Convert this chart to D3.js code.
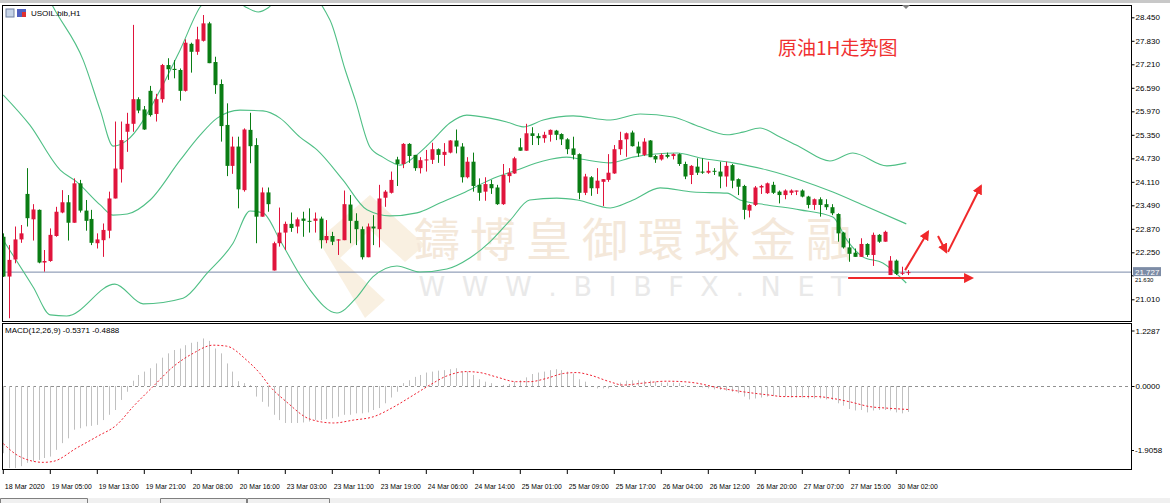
<!DOCTYPE html>
<html><head><meta charset="utf-8">
<script src="https://cdn.jsdelivr.net/npm/d3@7"></script>
<style>body{margin:0;background:#fff;overflow:hidden}svg{display:block}</style>
</head><body>
<svg id="c" width="1170" height="503"></svg>
<script>
// ---- DATA ----
const symbolTitle = "USOIL.bib,H1";
const macdTitle = "MACD(12,26,9) -0.5371 -0.4888";
const annotationTitle = "原油1H走势图";
const watermarkCN = "鑄博皇御環球金融";
const watermarkEN = "W W W . B I B F X . N E T";
// [open, high, low, close] per hourly bar
const ohlc = [
[22.66,22.75,21.60,21.61],[21.61,22.44,20.51,22.05],[22.06,22.93,21.96,22.59],[22.59,22.97,22.50,22.75],
[23.79,24.47,22.93,23.15],[23.12,23.52,22.56,23.38],[23.37,23.38,21.96,21.98],[21.98,22.31,21.74,22.02],
[22.02,22.88,22.00,22.71],[22.68,23.45,22.66,23.32],[23.30,23.89,23.28,23.57],[23.57,23.76,22.56,23.03],
[23.03,24.20,23.03,24.07],[24.07,24.16,23.30,23.35],[23.35,23.63,22.82,23.08],[23.13,23.37,22.44,22.50],
[22.49,22.75,22.35,22.59],[22.57,23.01,22.13,22.84],[22.82,23.85,22.62,23.67],[23.67,25.70,23.67,24.46],
[24.44,25.70,24.09,25.21],[25.43,25.93,24.90,25.64],[25.64,28.25,25.43,26.29],[26.29,26.34,25.92,25.99],
[26.02,26.11,25.48,25.49],[26.51,26.64,25.83,25.87],[25.90,26.43,25.70,26.29],[26.29,27.22,26.20,27.19],
[27.19,27.37,26.80,27.08],[27.09,27.32,26.84,27.06],[27.06,27.10,26.25,26.51],[26.51,27.87,26.49,27.78],
[27.75,27.78,26.99,27.54],[27.54,28.20,27.46,27.87],[27.83,28.51,27.81,28.29],[28.29,28.33,27.24,27.24],
[27.27,27.41,26.43,26.66],[26.69,26.81,25.17,25.58],[25.61,26.18,24.26,24.53],[24.53,25.30,24.32,25.04],
[25.04,25.30,23.41,23.91],[23.89,25.52,23.85,25.49],[25.48,25.93,24.60,25.05],[25.08,25.26,22.49,23.19],
[23.19,23.96,23.19,23.83],[23.83,23.96,23.32,23.52],[21.77,22.53,21.77,22.49],[22.49,23.43,22.40,22.77],
[22.77,23.06,22.31,23.00],[23.00,23.30,22.79,22.89],[22.93,23.17,22.75,23.12],[23.14,23.32,22.66,23.08],
[23.08,23.41,22.77,23.07],[23.08,23.30,22.77,23.14],[23.14,23.19,22.35,22.57],[22.57,23.10,22.49,22.68],
[22.68,22.79,22.44,22.53],[22.56,22.60,22.18,22.59],[22.57,23.88,22.57,23.52],[23.51,23.76,22.49,23.08],
[23.08,23.28,22.44,22.86],[22.86,22.93,22.06,22.12],[22.12,23.01,22.12,22.93],[22.93,23.23,22.44,22.88],
[22.86,24.03,22.38,23.67],[23.69,23.89,23.45,23.85],[23.82,24.38,23.80,24.16],[24.70,24.77,24.00,24.58],
[24.58,25.13,24.47,25.11],[25.11,25.13,24.61,24.79],[24.82,24.82,24.40,24.47],[24.47,24.76,24.33,24.68],
[24.69,24.95,24.38,24.70],[24.69,25.14,24.58,24.97],[24.97,24.99,24.61,24.82],[24.82,25.13,24.53,24.90],
[24.88,25.21,24.86,25.20],[25.20,25.49,24.86,25.04],[25.04,25.13,24.09,24.23],[24.23,24.76,24.20,24.64],
[24.64,24.88,23.85,24.00],[24.03,24.20,23.61,23.82],[23.85,24.23,23.61,24.05],[24.05,24.16,23.79,23.94],
[23.96,24.03,23.50,23.52],[23.52,24.58,23.50,24.29],[24.26,24.47,24.09,24.35],[24.33,24.77,24.32,24.73],
[25.02,25.26,24.93,24.93],[24.93,25.64,24.93,25.39],[25.39,25.55,25.08,25.32],[25.32,25.39,25.08,25.26],
[25.26,25.43,25.14,25.35],[25.35,25.49,25.17,25.48],[25.46,25.48,25.21,25.35],[25.37,25.39,25.08,25.23],
[25.23,25.26,24.84,24.97],[24.99,25.30,24.70,24.82],[24.84,24.86,23.65,23.82],[23.82,24.32,23.76,24.25],
[24.23,24.26,23.74,23.94],[23.94,24.47,23.79,24.14],[24.11,24.18,23.47,24.18],[24.16,24.84,24.11,24.35],
[24.33,25.08,24.32,24.97],[24.97,25.43,24.82,25.21],[25.23,25.41,24.77,25.39],[25.41,25.46,25.04,25.05],
[25.04,25.17,24.77,24.86],[24.82,25.26,24.79,25.17],[25.20,25.21,24.76,24.76],[24.79,24.82,24.61,24.70],
[24.70,24.86,24.67,24.82],[24.82,24.88,24.73,24.77],[24.79,24.86,24.70,24.84],[24.84,24.86,24.53,24.58],
[24.58,24.64,24.18,24.25],[24.29,24.55,24.05,24.53],[24.51,24.73,24.29,24.35],[24.38,24.73,24.32,24.35],
[24.35,24.64,24.32,24.40],[24.40,24.47,24.29,24.38],[24.38,24.64,23.94,24.25],[24.25,24.64,23.98,24.53],
[24.55,24.58,23.94,24.14],[24.18,24.20,23.76,23.98],[24.00,24.03,23.12,23.37],[23.35,23.52,23.17,23.50],
[23.50,24.00,23.47,23.96],[23.96,24.03,23.79,24.00],[23.81,24.09,23.79,24.07],[24.03,24.11,23.79,23.82],
[23.85,23.88,23.54,23.76],[23.76,23.91,23.65,23.88],[23.82,23.91,23.76,23.88],[23.85,23.88,23.76,23.88],
[23.88,23.91,23.70,23.72],[23.72,23.74,23.41,23.50],[23.50,23.67,23.37,23.65],[23.65,23.70,23.19,23.50],
[23.52,23.65,23.37,23.44],[23.44,23.52,23.23,23.28],[23.26,23.28,22.53,22.75],[22.77,22.79,22.35,22.38],
[22.38,22.62,22.00,22.21],[22.24,22.35,22.13,22.13],[22.13,22.62,22.13,22.47],[22.47,22.49,22.13,22.18],
[22.18,22.77,21.89,22.71],[22.71,22.73,22.50,22.53],[22.53,22.82,22.53,22.79],[21.65,22.15,21.65,22.03],
[22.03,22.06,21.65,21.68],[21.70,21.87,21.65,21.71],[21.71,21.78,21.65,21.727]
];
// Bollinger bands: [bar index, price]
const bandUpper = [[0,30.49],[6.2,29.43],[8.5,28.72],[13.6,27.32],[16.5,26.00],[18.7,25.05],[21.1,25.21],[26.7,26.53],[30.1,27.59],[33.5,28.72],[36.9,29.17],[41.5,28.70],[43.4,28.59],[45.1,28.70],[48.8,29.43],[55.6,28.38],[58.2,27.06],[59.9,26.27],[62.4,25.03],[64.6,24.76],[66.3,24.61],[67.5,24.55],[70.4,24.82],[73.1,25.21],[76.0,25.66],[78.9,25.87],[82.8,25.79],[85.7,25.69],[88.5,25.56],[91.9,25.74],[97.0,25.85],[103.3,25.74],[108.4,25.90],[114.0,25.82],[118.6,25.56],[123.2,25.35],[125.9,25.42],[128.8,25.53],[132.2,25.29],[135.6,25.03],[140.7,24.66],[144.6,24.87],[150.4,24.53],[153.7,24.61]];
const bandMiddle = [[0,26.40],[4.5,25.61],[9.7,24.42],[12.5,24.11],[16.5,23.50],[18.7,23.23],[21.1,23.26],[25.0,23.63],[30.1,24.68],[33.5,25.34],[36.4,25.79],[40.3,26.00],[44.2,25.98],[47.1,25.79],[50.5,25.29],[53.4,24.95],[57.8,24.16],[61.9,23.37],[65.8,23.21],[70.4,23.29],[74.3,23.55],[78.2,23.81],[82.8,24.16],[87.4,24.42],[91.9,24.66],[95.9,24.76],[98.2,24.71],[103.3,24.61],[107.2,24.76],[114.7,24.87],[118.6,24.74],[124.2,24.61],[130.0,24.42],[135.6,24.16],[141.2,23.84],[147.0,23.45],[153.7,23.00]];
const bandLower = [[0,22.57],[5.1,21.33],[8.0,20.60],[10.8,20.57],[19.0,21.41],[23.8,20.89],[30.6,21.04],[34.7,21.70],[39.1,22.49],[42.0,23.34],[44.2,23.29],[47.1,22.57],[50.5,21.65],[52.2,21.26],[56.8,20.65],[60.2,21.07],[62.9,21.60],[67.0,21.89],[70.9,21.73],[75.5,21.81],[79.4,22.10],[82.8,22.52],[86.3,23.10],[89.6,23.63],[94.2,23.68],[97.7,23.63],[103.3,23.42],[107.2,23.63],[111.8,23.95],[117.4,23.84],[123.2,23.81],[125.4,23.63],[130.0,23.50],[135.6,23.37],[141.2,23.18],[143.6,22.57],[146.3,22.13],[149.7,21.97],[153.7,21.44]];
// MACD histogram per bar
const macdHist = [-1.40,-1.71,-1.71,-1.67,-1.60,-1.57,-1.54,-1.50,-1.47,-1.33,-1.19,-1.09,-0.91,-0.88,-0.84,-0.83,-0.81,-0.71,-0.60,-0.50,
-0.29,-0.12,0.11,0.23,0.30,0.37,0.47,0.59,0.68,0.75,0.78,0.85,0.90,0.92,0.99,0.94,0.78,0.68,0.47,0.30,
0.10,0.06,0.02,-0.22,-0.33,-0.43,-0.60,-0.71,-0.77,-0.77,-0.77,-0.76,-0.74,-0.71,-0.71,-0.69,-0.67,-0.64,-0.60,-0.60,
-0.57,-0.57,-0.55,-0.50,-0.46,-0.36,-0.24,-0.12,0.06,0.12,0.19,0.23,0.28,0.30,0.32,0.33,0.35,0.37,0.30,0.30,
0.23,0.14,0.09,0.06,0,0.02,0.04,0.09,0.12,0.18,0.25,0.28,0.30,0.33,0.35,0.33,0.30,0.26,0.14,0.09,
0,-0.05,-0.05,-0.05,0.02,0.07,0.11,0.12,0.12,0.11,0.11,0.09,0.07,0.07,0.07,0.06,0.02,0,-0.01,-0.03,
-0.05,-0.07,-0.08,-0.10,-0.12,-0.15,-0.22,-0.28,-0.26,-0.24,-0.22,-0.21,-0.22,-0.22,-0.24,-0.24,-0.24,-0.26,-0.26,-0.26,
-0.28,-0.29,-0.36,-0.41,-0.48,-0.51,-0.50,-0.55,-0.51,-0.50,-0.50,-0.51,-0.55,-0.57,-0.54];
// MACD signal line: [bar index, value]
const macdSignal = [[0,-1.20],[2.8,-1.47],[6.8,-1.59],[8.5,-1.57],[12.5,-1.29],[16.0,-1.05],[19.3,-0.81],[22.1,-0.43],[25.5,-0.01],[28.9,0.40],[32.3,0.68],[35.7,0.85],[38.0,0.83],[41.4,0.54],[43.7,0.26],[45.4,-0.01],[48.2,-0.33],[52.2,-0.69],[56.2,-0.77],[59.6,-0.71],[63.0,-0.64],[66.4,-0.44],[69.8,-0.19],[72.6,0.02],[75.5,0.21],[78.8,0.30],[81.1,0.28],[83.9,0.19],[87.3,0.09],[89.6,0.09],[92.5,0.16],[95.3,0.26],[97.6,0.28],[99.8,0.23],[103.2,0.09],[105.5,0.02],[108.9,0.06],[112.9,0.10],[115.7,0.09],[118.0,0.06],[121.4,-0.03],[125.9,-0.12],[130.5,-0.19],[132.7,-0.22],[138.4,-0.22],[141.2,-0.26],[144.1,-0.33],[147.5,-0.43],[150.3,-0.46],[154,-0.4888]];
const priceTicks = [28.45,27.83,27.21,26.59,25.97,25.35,24.73,24.11,23.49,22.87,22.25,21.63,21.01];
const lastPrice = 21.727;
const macdTicks = [1.2287,0];
const macdMin = -1.9058;
const timeLabels = ["18 Mar 2020","19 Mar 05:00","19 Mar 13:00","19 Mar 21:00","20 Mar 08:00","20 Mar 16:00","23 Mar 03:00","23 Mar 11:00","23 Mar 19:00","24 Mar 06:00","24 Mar 14:00","25 Mar 01:00","25 Mar 09:00","25 Mar 17:00","26 Mar 04:00","26 Mar 12:00","26 Mar 20:00","27 Mar 07:00","27 Mar 15:00","30 Mar 02:00"];
const labelEvery = 8;
// forecast arrows: [[bar,price],[bar,price]]
const arrows = [[[143.8,21.57],[164.9,21.57]],[[153.5,21.78],[157.4,22.79]],[[159.1,22.68],[160.5,22.26]],[[160.8,22.26],[166.4,24.00]]];

// ---- DRAW ----
const svg = d3.select("#c");
const L=3, R=1131, mainTop=6, mainBot=322, subTop=324, subBot=469;
const x = d3.scaleLinear().domain([0,154]).range([3.3, 3.3+154*5.875]);
const y = d3.scaleLinear().domain([21.01,28.45]).range([299.3,17.3]);
const ym = d3.scaleLinear().domain([0,1.2287]).range([386,327]);
const font = "Liberation Sans, Arial, sans-serif";

svg.append("rect").attr("x",0).attr("y",0).attr("width",1170).attr("height",3).attr("fill","#c8c8c8");
svg.append("rect").attr("x",0).attr("y",498).attr("width",1170).attr("height",5).attr("fill","#f0f0f0");
[[0,88],[160,247],[247,330]].forEach(t=>{
  svg.append("path").attr("d",`M${t[0]+0.5},503 V498.5 H${t[1]-0.5} V503`).attr("fill","none").attr("stroke","#808080");
});

svg.append("clipPath").attr("id","mc").append("rect").attr("x",L).attr("y",mainTop).attr("width",R-L).attr("height",mainBot-mainTop);
svg.append("clipPath").attr("id","sc").append("rect").attr("x",L).attr("y",subTop).attr("width",R-L).attr("height",subBot-subTop);

// watermark
const wm = svg.append("g").attr("clip-path","url(#mc)");
wm.append("path").attr("d","M318,240 L370,195 L425,245 L405,262 L370,230 L340,258 L385,300 L365,318 Z").attr("fill","#f7ecd9").attr("opacity",0.8);
wm.append("text").attr("x",638).attr("y",256).attr("text-anchor","middle").attr("font-family","Noto Sans CJK TC").attr("font-size",46).attr("letter-spacing",10).attr("fill","#f4e8da").text(watermarkCN);
wm.append("text").attr("x",635).attr("y",296).attr("text-anchor","middle").attr("font-family","DejaVu Sans").attr("font-size",27).attr("letter-spacing",4).attr("fill","#e9e9e9").text(watermarkEN);

// price line
svg.append("line").attr("x1",L).attr("x2",R).attr("y1",y(lastPrice)).attr("y2",y(lastPrice)).attr("stroke","#7a8aa8").attr("stroke-width",1);

// bands
const gb = svg.append("g").attr("clip-path","url(#mc)");
const bline = d3.line().x(d=>x(d[0])).y(d=>y(d[1])).curve(d3.curveMonotoneX);
[bandUpper,bandMiddle,bandLower].forEach(b=>gb.append("path").attr("d",bline(b)).attr("fill","none").attr("stroke","#4fbf85").attr("stroke-width",1.1));

// candles
const gc = svg.append("g").attr("clip-path","url(#mc)");
const up="#e0143c", dn="#0a7d14";
ohlc.forEach((d,i)=>{
  const col = d[3]>=d[0]?up:dn;
  const cx = Math.round(x(i))+0.5;
  gc.append("line").attr("x1",cx).attr("x2",cx).attr("y1",y(d[1])).attr("y2",y(d[2])).attr("stroke",col).attr("stroke-width",1);
  const t=y(Math.max(d[0],d[3])), b=y(Math.min(d[0],d[3]));
  gc.append("rect").attr("x",cx-2).attr("y",t).attr("width",4).attr("height",Math.max(1,b-t)).attr("fill",col);
});

// arrows
const defs = svg.append("defs");
defs.append("marker").attr("id","ah").attr("viewBox","0 0 10 10").attr("refX",8).attr("refY",5).attr("markerWidth",5).attr("markerHeight",5).attr("orient","auto")
  .append("path").attr("d","M0,0 L10,5 L0,10 Z").attr("fill","#f0282a");
arrows.forEach(a=>svg.append("line").attr("x1",x(a[0][0])).attr("y1",y(a[0][1])).attr("x2",x(a[1][0])).attr("y2",y(a[1][1])).attr("stroke","#f0282a").attr("stroke-width",2).attr("marker-end","url(#ah)"));

// MACD
const gm = svg.append("g").attr("clip-path","url(#sc)");
gm.append("line").attr("x1",L).attr("x2",R).attr("y1",ym(0)+0.5).attr("y2",ym(0)+0.5).attr("stroke","#909090").attr("stroke-dasharray","3,3");
macdHist.forEach((v,i)=>{
  const cx=Math.round(x(i))+0.5;
  gm.append("line").attr("x1",cx).attr("x2",cx).attr("y1",ym(0)).attr("y2",ym(v)).attr("stroke","#c0c0c0").attr("stroke-width",1);
});
gm.append("path").attr("d",d3.line().x(d=>x(d[0])).y(d=>ym(d[1])).curve(d3.curveMonotoneX)(macdSignal)).attr("fill","none").attr("stroke","#f02030").attr("stroke-width",1).attr("stroke-dasharray","2,2");

// frames
svg.append("rect").attr("x",L-0.5).attr("y",mainTop-0.5).attr("width",R-L+1).attr("height",mainBot-mainTop).attr("fill","none").attr("stroke","#000");
svg.append("rect").attr("x",L-0.5).attr("y",subTop-0.5).attr("width",R-L+1).attr("height",subBot-subTop+1).attr("fill","none").attr("stroke","#000");
svg.append("path").attr("d","M902,5 L910,5 L906,9 Z").attr("fill","#808080");

// price axis
const ya = svg.append("g").attr("transform",`translate(${R+0.5},0)`).call(d3.axisRight(y).tickValues(priceTicks.filter(v=>v!==21.63)).tickSize(3).tickFormat(d3.format(".3f")));
ya.select(".domain").remove();
ya.selectAll("text").attr("font-family",font).attr("font-size",8).attr("fill","#000").attr("x",4);
ya.selectAll("line").attr("stroke","#000");
svg.append("line").attr("x1",R).attr("x2",R+3).attr("y1",y(21.63)).attr("y2",y(21.63)).attr("stroke","#000");
svg.append("text").attr("x",R+4).attr("y",y(21.63)+6).attr("font-family",font).attr("font-size",6).attr("fill","#000").text("21.630");
svg.append("rect").attr("x",R+2).attr("y",y(lastPrice)-5).attr("width",28).attr("height",9).attr("fill","#7d8ca6");
svg.append("text").attr("x",R+4).attr("y",y(lastPrice)+3).attr("font-family",font).attr("font-size",8).attr("fill","#fff").text(lastPrice.toFixed(3));

// macd axis
const ma = svg.append("g").attr("transform",`translate(${R+0.5},0)`).call(d3.axisRight(ym).tickValues(macdTicks).tickSize(3).tickFormat(d3.format(".4f")));
ma.select(".domain").remove();
ma.selectAll("text").attr("font-family",font).attr("font-size",8).attr("fill","#000").attr("x",4);
ma.selectAll(".tick").filter(d=>d>1).attr("transform",`translate(0,${ym(1.2287)+4})`);
svg.append("text").attr("x",R+4).attr("y",453).attr("font-family",font).attr("font-size",8).text(macdMin.toFixed(4));
svg.append("line").attr("x1",R).attr("x2",R+3).attr("y1",450.5).attr("y2",450.5).attr("stroke","#000");

// time axis
const ticksIdx = timeLabels.map((t,i)=>i*labelEvery);
const xa = svg.append("g").attr("transform",`translate(0,${subBot+1})`).call(d3.axisBottom(x).tickValues(ticksIdx).tickSize(4).tickFormat((d,i)=>timeLabels[i]));
xa.select(".domain").remove();
xa.selectAll("line").attr("stroke","#000").attr("transform","translate(-0.5,0)");
xa.selectAll("text").attr("font-family",font).attr("font-size",7.5).attr("fill","#000").attr("text-anchor","start").attr("x",1).attr("y",14)
  .attr("textLength",40).attr("lengthAdjust","spacingAndGlyphs");

// titles
svg.append("rect").attr("x",6).attr("y",9).attr("width",8).attr("height",8).attr("fill","#c6d3e6").attr("stroke","#7080a0");
svg.append("rect").attr("x",17).attr("y",9).attr("width",9).attr("height",8).attr("fill","#5060c0");
svg.append("rect").attr("x",22).attr("y",12).attr("width",4).attr("height",5).attr("fill","#e03030");
svg.append("text").attr("x",31).attr("y",16).attr("font-family",font).attr("font-size",8).text(symbolTitle);
svg.append("text").attr("x",5).attr("y",333).attr("font-family",font).attr("font-size",8).text(macdTitle);
svg.append("text").attr("x",778).attr("y",55).attr("font-family","Noto Sans CJK SC").attr("font-size",19).attr("fill","#f03030").text(annotationTitle);
</script>
</body></html>
